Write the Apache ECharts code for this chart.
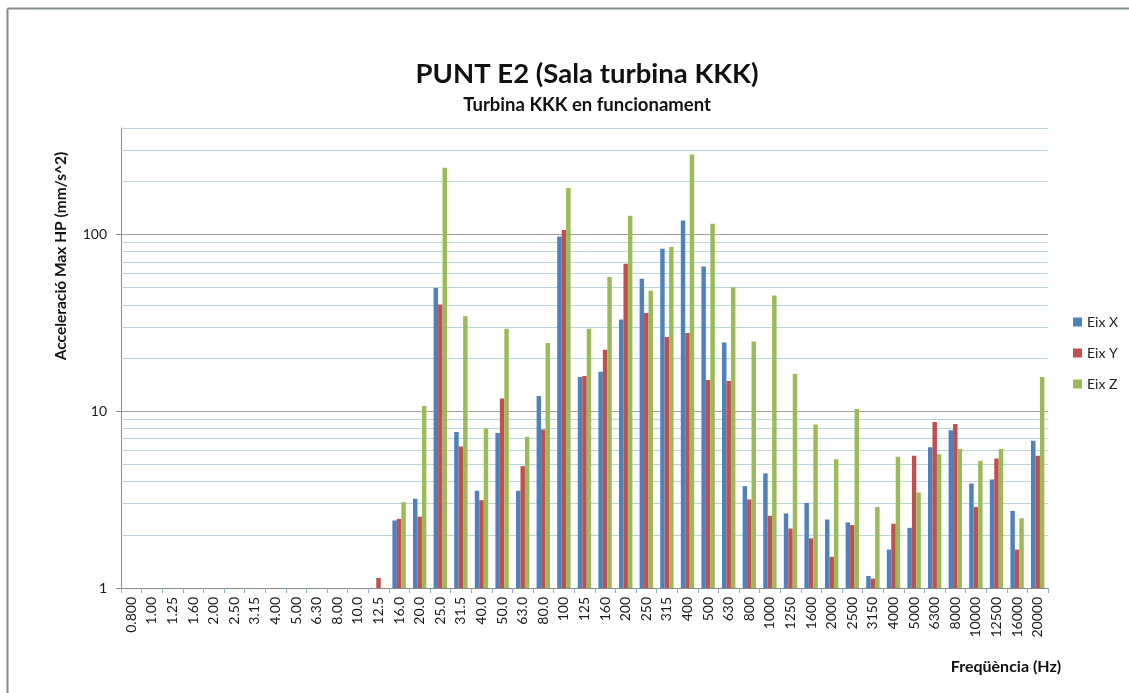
<!DOCTYPE html>
<html>
<head>
<meta charset="utf-8">
<title>PUNT E2 (Sala turbina KKK)</title>
<script src="https://cdn.jsdelivr.net/npm/echarts@6/dist/echarts.min.js"></script>
<style>
    html, body { margin: 0; padding: 0; background: #fff; }
    #main { width: 1129px; height: 693px; }
</style>
</head>
<body>
<div id="main"></div>
<script>
// third-octave bands (Hz)
var freqs = ['0.800', '1.00', '1.25', '1.60', '2.00', '2.50', '3.15', '4.00', '5.00', '6.30',
    '8.00', '10.0', '12.5', '16.0', '20.0', '25.0', '31.5', '40.0', '50.0', '63.0',
    '80.0', '100', '125', '160', '200', '250', '315', '400', '500', '630',
    '800', '1000', '1250', '1600', '2000', '2500', '3150', '4000', '5000', '6300',
    '8000', '10000', '12500', '16000', '20000'];

var eixX = [null, null, null, null, null, null, null, null, null, null,
    null, null, null, 2.41, 3.2, 49.7, 7.64, 3.55, 7.54, 3.55,
    12.2, 97.4, 15.6, 16.7, 33, 56.2, 83, 120, 65.9, 24.5,
    3.77, 4.45, 2.64, 3.03, 2.44, 2.35, 1.17, 1.65, 2.19, 6.26,
    7.81, 3.9, 4.11, 2.73, 6.8];

var eixY = [null, null, null, null, null, null, null, null, null, null,
    null, null, 1.14, 2.46, 2.53, 40.2, 6.32, 3.14, 11.8, 4.89,
    7.88, 106, 15.8, 22.3, 68.3, 35.9, 26.3, 27.7, 15.0, 14.8,
    3.17, 2.56, 2.17, 1.91, 1.5, 2.27, 1.13, 2.31, 5.59, 8.7,
    8.48, 2.87, 5.4, 1.65, 5.59];

var eixZ = [null, null, null, null, null, null, null, null, null, null,
    null, null, null, 3.06, 10.7, 238, 34.4, 7.98, 29.3, 7.16,
    24.3, 183, 29.3, 57.4, 127.6, 48.1, 84.8, 283, 115, 50.2,
    24.8, 45.1, 16.3, 8.41, 5.35, 10.3, 2.87, 5.52, 3.47, 5.71,
    6.12, 5.24, 6.12, 2.48, 15.6];

// minor log gridlines
var minorLevels = [2, 3, 4, 5, 6, 7, 8, 9, 20, 30, 40, 50, 60, 70, 80, 90, 200, 300, 400];

var font = 'Lato, "Open Sans", sans-serif';

var myChart = echarts.init(document.getElementById('main'));

var option = {
    animation: false,
    backgroundColor: '#fff',
    textStyle: { fontFamily: font },
    color: ['#4f81bd', '#c0504d', '#9bbb59'],
    title: [
        {
            text: 'PUNT E2 (Sala turbina KKK)',
            left: 582,
            top: 55,
            textAlign: 'center',
            textStyle: { fontFamily: font, fontSize: 27.5, fontWeight: 'bold', color: '#111' }
        },
        {
            text: 'Turbina KKK en funcionament',
            left: 582,
            top: 91,
            textAlign: 'center',
            textStyle: { fontFamily: font, fontSize: 18.5, fontWeight: 'bold', color: '#111' }
        }
    ],
    legend: {
        orient: 'vertical',
        left: 1073,
        top: 315,
        padding: 0,
        itemWidth: 9,
        itemHeight: 9,
        itemGap: 17,
        icon: 'rect',
        textStyle: { fontFamily: font, fontSize: 14, color: '#222' },
        data: ['Eix X', 'Eix Y', 'Eix Z']
    },
    grid: {
        left: 121,
        right: 81,
        top: 128,
        bottom: 105
    },
    xAxis: {
        type: 'category',
        data: freqs,
        boundaryGap: true,
        axisLine: { lineStyle: { color: '#8a8a8a', width: 1 } },
        axisTick: { show: true, length: 5, lineStyle: { color: '#8fb0c4' } },
        axisLabel: {
            rotate: 90,
            interval: 0,
            margin: 9,
            fontFamily: font,
            fontSize: 14,
            color: '#1a1a1a'
        },
        splitLine: { show: false }
    },
    yAxis: {
        type: 'log',
        logBase: 10,
        min: 1,
        max: 400,
        axisLine: { show: true, lineStyle: { color: '#8a8a8a', width: 1 } },
        axisTick: { show: true, length: 5, lineStyle: { color: '#8a8a8a' } },
        axisLabel: {
            margin: 14,
            fontFamily: font,
            fontSize: 14,
            color: '#1a1a1a',
            showMaxLabel: false
        },
        splitLine: {
            show: true,
            lineStyle: { color: ['#a7a19e', '#a7a19e', '#a7a19e', '#bcd3df'], width: 1 }
        }
    },
    graphic: [
        // chart-area frame, only top and left edges are visible
        {
            type: 'line',
            shape: { x1: 7.5, y1: 8.5, x2: 1129, y2: 8.5 },
            style: { stroke: '#868e8e', lineWidth: 2 },
            silent: true
        },
        {
            type: 'line',
            shape: { x1: 7.5, y1: 8.5, x2: 7.5, y2: 693 },
            style: { stroke: '#868e8e', lineWidth: 2 },
            silent: true
        },
        {
            type: 'text',
            x: 61,
            y: 256,
            rotation: Math.PI / 2,
            style: {
                text: 'Acceleració Max HP (mm/s^2)',
                font: 'bold 15.5px ' + font,
                fill: '#111',
                align: 'center',
                verticalAlign: 'middle'
            }
        },
        {
            type: 'text',
            x: 1006,
            y: 667,
            style: {
                text: 'Freqüència (Hz)',
                font: 'bold 16px ' + font,
                fill: '#111',
                align: 'center',
                verticalAlign: 'middle'
            }
        }
    ],
    series: [
        {
            name: 'Eix X',
            type: 'bar',
            data: eixX,
            barGap: '0%',
            barCategoryGap: '35%',
            markLine: {
                z: 1,
                silent: true,
                symbol: 'none',
                label: { show: false },
                lineStyle: { color: '#bcd3df', width: 1, type: 'solid' },
                data: minorLevels.map(function (v) { return { yAxis: v }; })
            }
        },
        {
            name: 'Eix Y',
            type: 'bar',
            data: eixY,
            barGap: '0%',
            barCategoryGap: '35%'
        },
        {
            name: 'Eix Z',
            type: 'bar',
            data: eixZ,
            barGap: '0%',
            barCategoryGap: '35%'
        }
    ]
};

myChart.setOption(option);
window.onresize = myChart.resize;
</script>
</body>
</html>
